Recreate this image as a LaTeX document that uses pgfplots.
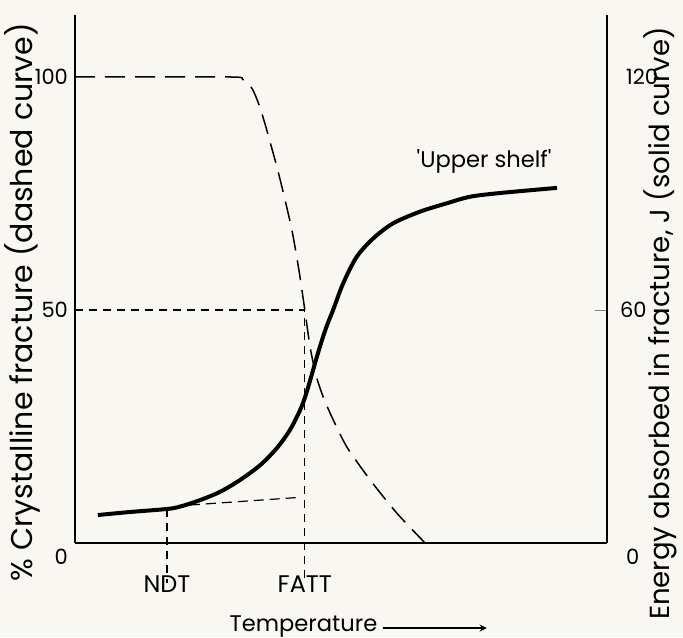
\documentclass[border=0pt]{standalone}
\usepackage{fontspec}
\setmainfont{Poppins}
\usepackage{pgfplots}
\pgfplotsset{compat=1.18}
\definecolor{paper}{HTML}{F8F7F2}

\begin{document}
\begin{tikzpicture}
% page background, also fixes the page size
\fill[paper] (-37.5pt,-47pt) rectangle (304pt,271.5pt);

\begin{axis}[
    scale only axis,
    width=266pt, height=264pt,
    xmin=0, xmax=100, ymin=0, ymax=113.3,
    axis x line=bottom, axis y line=left,
    axis line style={-, line width=1pt},
    clip=false,
    /pgf/number format/assume math mode=true,
    major tick length=0pt,
    xtick={17.3,43.2}, xticklabels={NDT,FATT},
    xticklabel style={yshift=-13pt, font=\fontsize{12}{14}\selectfont},
    ytick={50,100},
    extra y ticks={0},
    extra y tick style={yticklabel style={yshift=-7pt}},
    yticklabel style={font=\fontsize{10.5}{12}\selectfont},
    ylabel={\% Crystalline fracture (dashed curve)},
    ylabel style={at={(axis description cs:-0.0996,0.456)}, anchor=center, rotate=0,
                  font=\fontsize{15}{17}\selectfont},
]
% dashed curve: % crystalline fracture
\addplot[black, line width=0.75pt, dash pattern=on 10pt off 5pt, smooth, tension=0.4]
  coordinates {
    (0,100) (29,100) (31.5,99.5) (33.3,97.5) (34.6,94) (35.7,90) (36.8,85.5)
    (38.0,80.5) (39.3,74.5) (40.8,67) (42.1,58.5) (43.2,50) (44.2,42)
    (45.3,36) (46.6,31.5) (48.3,27) (51.1,20.6) (55.5,13.5) (60.5,6.4) (65.8,0)
  };
% solid curve: absorbed energy (in left-axis units)
\addplot[black, line width=2pt, smooth, tension=0.5]
  coordinates {
    (4.3,6.0) (10.3,6.65) (17.3,7.3) (19.7,7.8) (23.5,9.2) (27.3,11.0)
    (31.0,13.5) (34.8,16.7) (37.9,20.3) (40.4,24.25) (42.3,28.5) (43.3,31.5)
    (44.3,35.3) (45.3,39.3) (46.3,43.1) (47.4,46.8) (48.55,50.1) (50.4,55.7)
    (52.95,61.4) (56.1,65.4) (59.8,68.6) (64.85,71.1) (69.9,72.9) (74.25,74.3)
    (79.9,75.1) (90.6,76.2)
  };
% reference lines
\addplot[black, line width=0.6pt, dash pattern=on 4pt off 3pt]
  coordinates {(0,50) (43.2,50) (43.2,-8.6)};
\addplot[black, line width=0.6pt, dash pattern=on 4pt off 3pt]
  coordinates {(17.3,7.3) (17.3,-8.6)};
\addplot[black, line width=0.6pt, dash pattern=on 5pt off 3pt]
  coordinates {(21.6,8.15) (42.3,9.8)};
\node[font=\fontsize{11.3}{13}\selectfont] at (axis cs:76.9,81.8)
  {\textquotesingle Upper shelf\textquotesingle};
\node[anchor=base, font=\fontsize{11.3}{13}\selectfont]
  at (axis description cs:0.4295,-0.168) {Temperature};
\draw[-stealth, line width=0.6pt]
  (axis description cs:0.578,-0.161) -- (axis description cs:0.774,-0.161);
\end{axis}

\begin{axis}[
    scale only axis,
    width=266pt, height=264pt,
    xmin=0, xmax=100, ymin=0, ymax=135.96,
    axis x line=none, axis y line=right,
    axis line style={-, line width=1pt},
    /pgf/number format/assume math mode=true,
    tick align=inside,
    major tick length=6pt,
    ytick={60},
    extra y ticks={0,120},
    extra y tick labels={\smash{\raisebox{-10.7pt}{0}},120},
    extra y tick style={major tick length=0pt, yticklabel style={xshift=3pt}},
    yticklabel style={font=\fontsize{10.5}{12}\selectfont, xshift=3pt},
    ylabel={Energy absorbed in fracture, J (solid curve)},
    ylabel style={at={(axis description cs:1.0996,0.4157)}, anchor=center, rotate=0,
                  font=\fontsize{13.8}{16}\selectfont},
]
\addplot[draw=none] coordinates {(0,0)};
\end{axis}
\pgfresetboundingbox
\path (-37.5pt,-47pt) rectangle (304pt,271.5pt);
\end{tikzpicture}
\end{document}
